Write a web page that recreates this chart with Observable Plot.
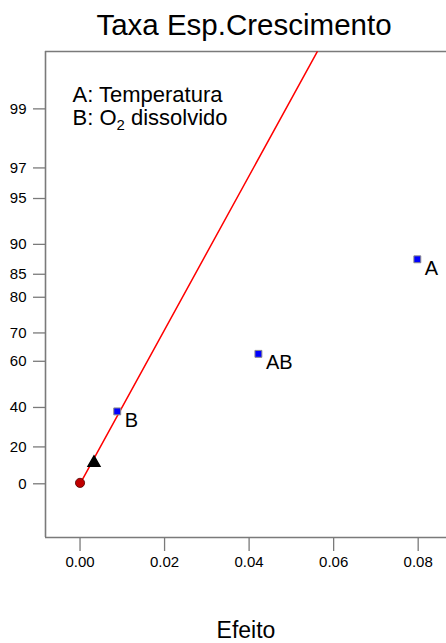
<!DOCTYPE html>
<html>
<head>
<meta charset="utf-8">
<script src="https://cdn.jsdelivr.net/npm/d3@7"></script>
<script src="https://cdn.jsdelivr.net/npm/@observablehq/plot@0.6"></script>
<style>
  html, body { margin: 0; padding: 0; background: #fff; }
  svg { display: block; }
</style>
</head>
<body>
<div id="chart"></div>
<script>
// ---- Data ----
const termLabels = ["A", "B", "AB"];
const termEffects = [0.0798, 0.0088, 0.0422];
const termPercentiles = [87.7, 38.1, 62.8];

const errorEffects = [0.0033];
const errorPercentiles = [11.5];

const originEffects = [0.0];
const originPercentiles = [0.5];

const lineEffects = [0.0, 0.0561];
const linePercentiles = [0.0, 99.7];

const yTickPercentiles = [0, 20, 40, 60, 70, 80, 85, 90, 95, 97, 99];
const xTicks = [0.00, 0.02, 0.04, 0.06, 0.08];

const titleText = "Taxa Esp.Crescimento";
const legendLines = ["A: Temperatura", "B: O_2 dissolvido"];
const xLabel = "Efeito";

// ---- Half-normal probability transform ----
function probit(p) {
  const a = [-3.969683028665376e+01, 2.209460984245205e+02, -2.759285104469687e+02, 1.383577518672690e+02, -3.066479806614716e+01, 2.506628277459239e+00];
  const b = [-5.447609879822406e+01, 1.615858368580409e+02, -1.556989798598866e+02, 6.680131188771972e+01, -1.328068155288572e+01];
  const c = [-7.784894002430293e-03, -3.223964580411365e-01, -2.400758277161838e+00, -2.549732539343734e+00, 4.374664141464968e+00, 2.938163982698783e+00];
  const d = [7.784695709041462e-03, 3.224671290700398e-01, 2.445134137142996e+00, 3.754408661907416e+00];
  const pl = 0.02425, ph = 1 - pl;
  let q, r;
  if (p < pl) {
    q = Math.sqrt(-2 * Math.log(p));
    return (((((c[0]*q+c[1])*q+c[2])*q+c[3])*q+c[4])*q+c[5]) / ((((d[0]*q+d[1])*q+d[2])*q+d[3])*q+1);
  } else if (p <= ph) {
    q = p - 0.5; r = q*q;
    return (((((a[0]*r+a[1])*r+a[2])*r+a[3])*r+a[4])*r+a[5])*q / (((((b[0]*r+b[1])*r+b[2])*r+b[3])*r+b[4])*r+1);
  } else {
    q = Math.sqrt(-2 * Math.log(1 - p));
    return -(((((c[0]*q+c[1])*q+c[2])*q+c[3])*q+c[4])*q+c[5]) / ((((d[0]*q+d[1])*q+d[2])*q+d[3])*q+1);
  }
}
const hz = pct => pct <= 0 ? 0 : probit(0.5 + pct / 200);

const terms = termLabels.map((t, i) => ({label: t, x: termEffects[i], z: hz(termPercentiles[i])}));
const errors = errorEffects.map((e, i) => ({x: e, z: hz(errorPercentiles[i])}));
const origins = originEffects.map((e, i) => ({x: e, z: hz(originPercentiles[i])}));
const fit = lineEffects.map((e, i) => ({x: e, z: hz(linePercentiles[i])}));
const yTicks = yTickPercentiles.map(p => ({z: hz(p), label: String(p)}));
const tickLabelByZ = new Map(yTicks.map(t => [t.z, t.label]));

const xDomain = [-0.00817, 0.0867];
const yDomain = [-0.369, 2.97];
const frameColor = "#7a7a7a";
const font = "'Liberation Sans', Arial, sans-serif";

const chart = Plot.plot({
  width: 446,
  height: 643,
  marginTop: 51,
  marginLeft: 45,
  marginRight: 0,
  marginBottom: 106,
  style: {fontFamily: font, background: "#fff", color: "#000"},
  x: {domain: xDomain},
  y: {domain: yDomain},
  marks: [
    Plot.ruleX([xDomain[0]], {stroke: frameColor, strokeWidth: 1.6}),
    Plot.ruleY([yDomain[0], yDomain[1]], {stroke: frameColor, strokeWidth: 1.6}),
    Plot.axisX({ticks: xTicks, tickSize: 14, tickPadding: 5, tickFormat: d3.format(".2f"), stroke: frameColor, strokeWidth: 1.3, fontSize: 15, label: null}),
    Plot.axisY({ticks: yTicks.map(t => t.z), tickSize: 12, tickPadding: 7, tickFormat: z => tickLabelByZ.get(z), stroke: frameColor, strokeWidth: 1.3, fontSize: 15, label: null}),
    Plot.line(fit, {x: "x", y: "z", stroke: "#ff0000", strokeWidth: 1.5, clip: true}),
    Plot.dot(origins, {x: "x", y: "z", r: 4.6, fill: "#c00000", stroke: "#500000", strokeWidth: 0.8}),
    Plot.dot(errors, {x: "x", y: "z", symbol: "triangle", r: 4.4, fill: "#000", stroke: "#000"}),
    Plot.dot(terms, {x: "x", y: "z", symbol: "square", r: 3.9, fill: "#0000ff", stroke: "#8a8a8a", strokeWidth: 1}),
    Plot.text(terms, {x: "x", y: "z", text: "label", textAnchor: "start", lineAnchor: "middle", dx: 7.5, dy: 9, fontSize: 20, fill: "#000"}),
    Plot.text([titleText], {frameAnchor: "top", lineAnchor: "bottom", dx: -2, dy: -17, fontSize: 29.5, fill: "#000"}),
    Plot.text([legendLines[0]], {frameAnchor: "top-left", textAnchor: "start", lineAnchor: "bottom", dx: 27, dy: 50, fontSize: 22, fill: "#000"}),
    Plot.text([legendLines[1]], {frameAnchor: "top-left", textAnchor: "start", lineAnchor: "bottom", dx: 27, dy: 73, fontSize: 22, fill: "#000"}),
    Plot.text([xLabel], {frameAnchor: "bottom", lineAnchor: "bottom", dy: 100, fontSize: 23, fill: "#000"})
  ]
});

// render the "_2" marker as a subscript
d3.select(chart).selectAll("text").each(function() {
  const t = d3.select(this);
  const s = t.text();
  if (s.includes("_2")) {
    const [before, after] = s.split("_2");
    t.text(null);
    t.append("tspan").text(before);
    t.append("tspan").attr("font-size", "0.68em").attr("dy", "5").text("2");
    t.append("tspan").attr("dy", "-5").text(after);
  }
});

document.getElementById("chart").appendChild(chart);
</script>
</body>
</html>
